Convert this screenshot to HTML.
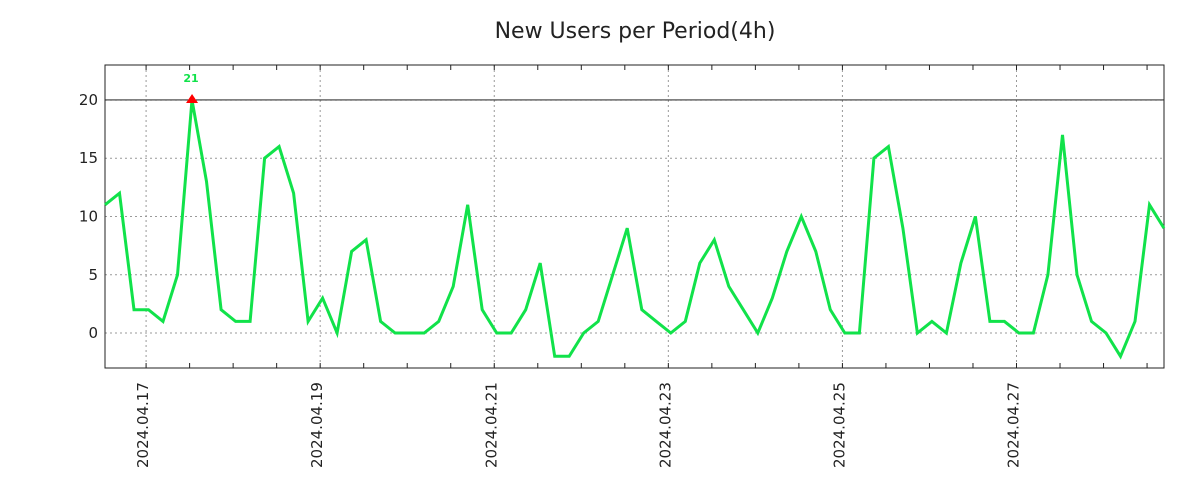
<!DOCTYPE html>
<html><head><meta charset="utf-8"><style>
body{margin:0;background:#fff;}
svg{display:block;font-family:"DejaVu Sans","Liberation Sans",sans-serif;}
</style></head><body>
<svg id="chart" width="1200" height="500">
<rect width="1200" height="500" fill="#fff"/>
<text x="635" y="38" text-anchor="middle" font-size="22" fill="#222">New Users per Period(4h)</text>
<g id="grid"></g><g id="axes"></g><g id="series"></g>
</svg>
<script>
const values=[11,12,2,2,1,5,20,13,2,1,1,15,16,12,1,3,0,7,8,1,0,0,0,1,4,11,2,0,0,2,6,-2,-2,0,1,5,9,2,1,0,1,6,8,4,2,0,3,7,10,7,2,0,0,15,16,9,0,1,0,6,10,1,1,0,0,5,17,5,1,0,-2,1,11,9];
const yTicks=[0,5,10,15,20];
const dateLabels=["2024.04.17","2024.04.19","2024.04.21","2024.04.23","2024.04.25","2024.04.27"];
const peakLabel="21";
const startHours=-11.33;
const L=105,R=1164,T=65,B=368,yMin=-3,yMax=23;
const NS="http://www.w3.org/2000/svg";
const span=(values.length-1)*4;
const xH=h=>L+(h-startHours)/span*(R-L);
const y=v=>B-(v-yMin)/(yMax-yMin)*(B-T);
function mk(tag,attrs,parent,text){const e=document.createElementNS(NS,tag);for(const k in attrs)e.setAttribute(k,attrs[k]);if(text!==undefined)e.textContent=text;document.getElementById(parent).appendChild(e);return e;}
yTicks.forEach(v=>{
 const g=mk('line',{x1:L,x2:R,y1:y(v),y2:y(v),stroke:'#999','stroke-dasharray':'2,3'},'grid');
 
 
 const t=mk('text',{x:L-7,y:y(v)+5,'text-anchor':'end','font-size':15,fill:'#222'},'axes',String(v));
 
 
});
for(let h=0;xH(h)<=R;h+=12){
 const x=xH(h);
 mk('line',{x1:x,x2:x,y1:T,y2:T+5,stroke:'#222'},'axes');
 mk('line',{x1:x,x2:x,y1:B,y2:B-5,stroke:'#222'},'axes');
}
dateLabels.forEach((d,i)=>{
 const x=xH(i*48);
 const g=mk('line',{x1:x,x2:x,y1:T,y2:B,stroke:'#999','stroke-dasharray':'2,3'},'grid');
 
 
 const t=mk('text',{x:0,y:0,transform:`translate(${x+2},${B+100}) rotate(-90)`,'font-size':15,fill:'#222'},'axes',d);
 
 
});
const ml=mk('line',{x1:L,x2:R,y1:y(20),y2:y(20),stroke:'#000','stroke-width':0.8},'axes');


const fr=mk('rect',{x:L,y:T,width:R-L,height:B-T,fill:'none',stroke:'#222'},'axes');


const pts=values.map((v,i)=>xH(startHours+i*4).toFixed(1)+','+y(v).toFixed(1)).join(' ');
const pl=mk('polyline',{points:pts,fill:'none',stroke:'#11e24a','stroke-width':3,'stroke-linejoin':'miter'},'series');


let mi=0;values.forEach((v,i)=>{if(v>values[mi])mi=i;});
const px=xH(startHours+mi*4),py=y(values[mi]);
const m=mk('polygon',{points:`${px-6},${py+3} ${px+6},${py+3} ${px},${py-6}`,fill:'#f00'},'series');


const pt=mk('text',{x:px-1,y:py-18,'text-anchor':'middle','font-size':11,'font-weight':'bold',fill:'#11e24a'},'series',peakLabel);


</script>
</body></html>
